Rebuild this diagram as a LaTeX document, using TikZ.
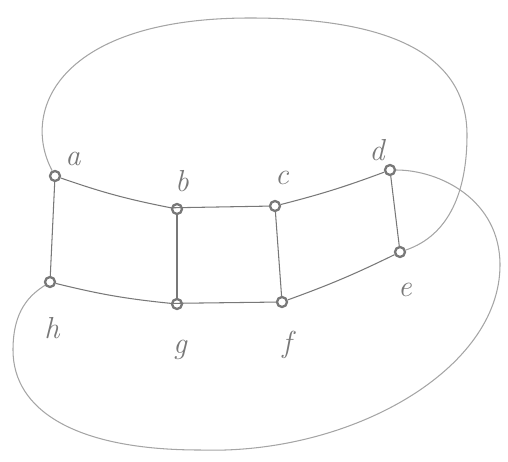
\documentclass[tikz,border=0pt]{standalone}
\usepackage{xcolor}
\usepackage{tikz}
\definecolor{lapiz}{RGB}{120,120,120}
\definecolor{lapizclaro}{RGB}{165,165,165}

\begin{document}
\begin{tikzpicture}[
		vtx/.style={circle,draw=lapiz,line width=1.3pt,inner sep=0pt,minimum size=0.2cm},
		lbl/.style={text=lapiz,font=\LARGE\itshape},
		edge/.style={draw=lapiz,line width=0.6pt}]
	\useasboundingbox (0,0) rectangle (10.16,-9.24);
	% vertices
	\node[vtx] (a) at (1.1,-3.52) {};
	\node[vtx] (b) at (3.54,-4.18) {};
	\node[vtx] (c) at (5.5,-4.12) {};
	\node[vtx] (d) at (7.8,-3.4) {};
	\node[vtx] (e) at (8.0,-5.04) {};
	\node[vtx] (f) at (5.64,-6.04) {};
	\node[vtx] (g) at (3.54,-6.08) {};
	\node[vtx] (h) at (1.0,-5.64) {};
	% labels
	\node[lbl] (la) at (1.46,-3.18) {a};
	\node[lbl] (lb) at (3.64,-3.62) {b};
	\node[lbl] (lc) at (5.64,-3.56) {c};
	\node[lbl] (ld) at (7.54,-3.0) {d};
	\node[lbl] (le) at (8.1,-5.8) {e};
	\node[lbl] (lf) at (5.74,-6.9) {f};
	\node[lbl] (lg) at (3.6,-7.0) {g};
	\node[lbl] (lh) at (1.04,-6.56) {h};
	% ladder
	\draw[edge] (a) to[bend right=4] (b) -- (c) to[bend right=3] (d);
	\draw[edge] (h) to[bend right=4] (g) -- (f) to[bend right=3] (e);
	\draw[edge] (a) -- (h);
	\draw[edge] (b) -- (g);
	\draw[edge] (c) -- (f);
	\draw[edge] (d) -- (e);
	% outer curves
	\draw[lapizclaro,line width=0.6pt] (a) .. controls (0.4,-2.2) and (1.2,-0.36) .. (5.0,-0.36)
		.. controls (8.0,-0.36) and (9.34,-1.2) .. (9.34,-2.7)
		.. controls (9.34,-3.8) and (9.0,-4.7) .. (e);
	\draw[lapizclaro,line width=0.6pt] (d) .. controls (8.8,-3.4) and (10.0,-4.0) .. (10.0,-5.3)
		.. controls (10.0,-7.4) and (7.0,-9.1) .. (4.0,-9.0)
		.. controls (1.5,-9.0) and (0.26,-8.2) .. (0.26,-7.0)
		.. controls (0.26,-6.2) and (0.6,-5.9) .. (h);
\end{tikzpicture}
\end{document}
